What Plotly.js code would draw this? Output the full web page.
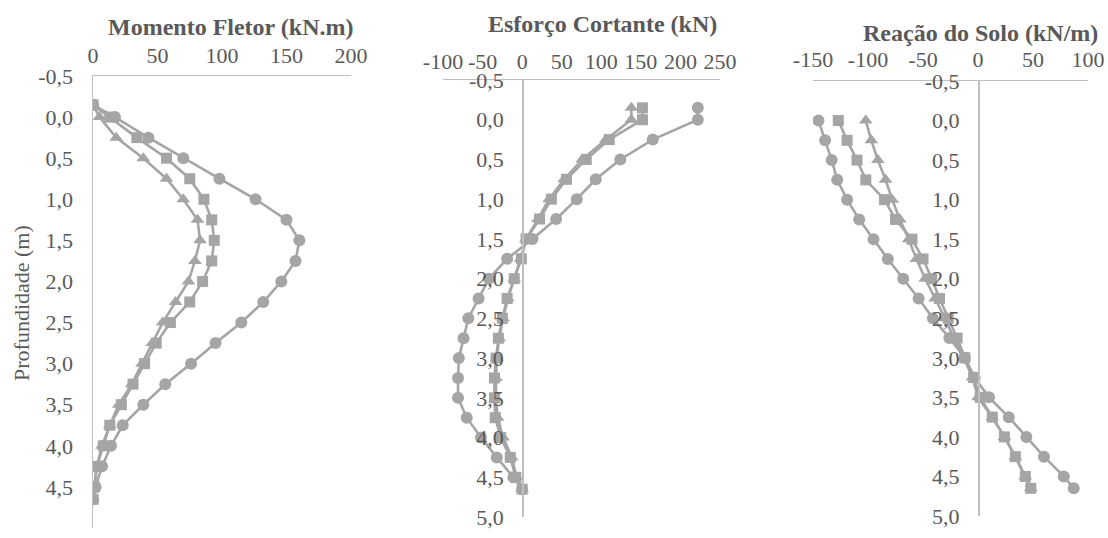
<!DOCTYPE html>
<html>
<head>
<meta charset="utf-8">
<script src="https://cdn.plot.ly/plotly-3.0.1.min.js"></script>
<style>
  html, body { margin: 0; padding: 0; background: #ffffff; }
  #chart { width: 1108px; height: 538px; }
</style>
</head>
<body>
<div id="chart"></div>
<script>
// Depths (m)
const depthA = [-0.15, 0, 0.25, 0.5, 0.75, 1.0, 1.25, 1.5, 1.75, 2.0, 2.25, 2.5, 2.75, 3.0, 3.25, 3.5, 3.75, 4.0, 4.25, 4.5, 4.65];
const depthB = [0, 0.25, 0.5, 0.75, 1.0, 1.25, 1.5, 1.75, 2.0, 2.25, 2.5, 2.75, 3.0, 3.25, 3.5, 3.75, 4.0, 4.25, 4.5, 4.65];

// Momento Fletor (kN.m)
const momentCircle   = [0, 17, 43, 70, 98, 126, 150, 160, 157, 146, 132, 115, 95, 76, 56, 39, 23, 14, 7, 2, 0];
const momentSquare   = [0, 13, 34, 57, 75, 86, 92, 94, 92, 85, 75, 60, 49, 40, 31, 22, 13, 8, 3, 1, 0];
const momentTriangle = [0, 5, 18, 39, 57, 70, 81, 83, 79, 74, 64, 54, 46, 38, 30, 20, 13, 7, 3, 1, 0];

// Esforço Cortante (kN)
const shearCircle   = [222, 222, 165, 124, 93, 69, 43, 13, -19, -42, -55, -68, -74, -80, -81, -81, -70, -52, -32, -11, 0];
const shearSquare   = [152, 152, 110, 81, 56, 37, 22, 5, -1, -10, -19, -25, -30, -33, -35, -35, -34, -27, -15, -8, 0];
const shearTriangle = [138, 138, 106, 76, 53, 34, 20, 5, -2, -10, -18, -24, -29, -32, -33, -33, -31, -24, -13, -7, 0];

// Reação do Solo (kN/m)
const soilCircle   = [-145, -139, -133, -128, -119, -108, -95, -82, -68, -54, -41, -26, -12, -3, 10, 28, 44, 60, 78, 87];
const soilSquare   = [-127, -119, -110, -102, -85, -75, -60, -50, -42, -35, -27, -19, -12, -4, 2, 13, 24, 34, 43, 48];
const soilTriangle = [-102, -97, -91, -84, -78, -71, -63, -56, -48, -39, -30, -22, -13, -5, 0, 13, 24, 34, 43, 48];

// Tick labels
const yTickVals = [-0.5, 0, 0.5, 1.0, 1.5, 2.0, 2.5, 3.0, 3.5, 4.0, 4.5, 5.0];
const yTickText = ['-0,5', '0,0', '0,5', '1,0', '1,5', '2,0', '2,5', '3,0', '3,5', '4,0', '4,5', '5,0'];
const x1TickVals = [0, 50, 100, 150, 200];
const x1TickText = ['0', '50', '100', '150', '200'];
const x2TickVals = [-100, -50, 0, 50, 100, 150, 200, 250];
const x2TickText = ['-100', '-50', '0', '50', '100', '150', '200', '250'];
const x3TickVals = [-150, -100, -50, 0, 50, 100];
const x3TickText = ['-150', '-100', '-50', '0', '50', '100'];

const titles = ['Momento Fletor (kN.m)', 'Esforço Cortante (kN)', 'Reação do Solo (kN/m)'];
const yTitle = 'Profundidade (m)';

// ---- styling ----
const W = 1108, H = 538;
const grey = '#A5A5A5';
const textCol = '#595959';
const lineCol = '#BFBFBF';
const FONT = 'Liberation Serif';

function px(x0, x1) { return [x0 / W, x1 / W]; }
function py(top, bottom) { return [1 - bottom / H, 1 - top / H]; }

const dom = [
  { x: px(93, 351), y: py(76, 528), xr: [0, 200] },
  { x: px(443, 720), y: py(80, 517), xr: [-100, 250] },
  { x: px(813, 1088), y: py(81, 516), xr: [-150, 100] }
];

function series(x, y, symbol, size, xa, ya) {
  return {
    x: x, y: y, xaxis: xa, yaxis: ya, type: 'scatter', mode: 'lines+markers',
    line: { color: grey, width: 2.6 },
    marker: { symbol: symbol, size: size, color: grey },
    showlegend: false, hoverinfo: 'skip'
  };
}

const data = [
  series(momentTriangle, depthA, 'triangle-up', 12, 'x', 'y'),
  series(momentSquare, depthA, 'square', 11, 'x', 'y'),
  series(momentCircle, depthA, 'circle', 12, 'x', 'y'),
  series(shearTriangle, depthA, 'triangle-up', 12, 'x2', 'y2'),
  series(shearSquare, depthA, 'square', 11, 'x2', 'y2'),
  series(shearCircle, depthA, 'circle', 12, 'x2', 'y2'),
  series(soilTriangle, depthB, 'triangle-up', 12, 'x3', 'y3'),
  series(soilSquare, depthB, 'square', 11, 'x3', 'y3'),
  series(soilCircle, depthB, 'circle', 12, 'x3', 'y3')
];

function xAxis(i, vals, text, anchor, standoff) {
  return {
    domain: dom[i].x, range: dom[i].xr, anchor: anchor, side: 'top',
    showline: true, linecolor: lineCol, linewidth: 1.5,
    showgrid: false, zeroline: false, ticks: '',
    tickmode: 'array', tickvals: vals, ticktext: text, tickangle: 0,
    ticklabelstandoff: standoff,
    tickfont: { family: FONT, size: 22, color: textCol }
  };
}
function yAxis(i, anchor, position) {
  const a = {
    domain: dom[i].y, range: [5.0, -0.5],
    showline: true, linecolor: lineCol, linewidth: 1.5,
    showgrid: false, zeroline: false, ticks: '',
    tickmode: 'array', tickvals: yTickVals, ticktext: yTickText,
    ticklabelstandoff: 14,
    tickfont: { family: FONT, size: 22, color: textCol }
  };
  if (anchor === 'free') { a.anchor = 'free'; a.position = position; }
  else { a.anchor = anchor; }
  return a;
}
function zeroPos(i) {
  const d = dom[i];
  return d.x[0] + (0 - d.xr[0]) / (d.xr[1] - d.xr[0]) * (d.x[1] - d.x[0]);
}

const layout = {
  width: W, height: H,
  font: { family: FONT, color: textCol },
  margin: { l: 0, r: 0, t: 0, b: 0, pad: 0 },
  paper_bgcolor: '#ffffff', plot_bgcolor: 'rgba(0,0,0,0)',
  showlegend: false,
  xaxis: xAxis(0, x1TickVals, x1TickText, 'y', 3),
  yaxis: yAxis(0, 'x'),
  xaxis2: xAxis(1, x2TickVals, x2TickText, 'y2', 1),
  yaxis2: yAxis(1, 'free', zeroPos(1)),
  xaxis3: xAxis(2, x3TickVals, x3TickText, 'y3', 4),
  yaxis3: yAxis(2, 'free', zeroPos(2)),
  annotations: [
    { text: '<b>' + titles[0] + '</b>', x: 230 / W, y: 1 - 27 / H },
    { text: '<b>' + titles[1] + '</b>', x: 602 / W, y: 1 - 24 / H },
    { text: '<b>' + titles[2] + '</b>', x: 980 / W, y: 1 - 33 / H }
  ].map(a => Object.assign(a, {
    xref: 'paper', yref: 'paper', xanchor: 'center', yanchor: 'middle', showarrow: false,
    font: { family: FONT, size: 24, color: textCol }
  })).concat([{
    text: yTitle, x: 21 / W, y: 1 - 303 / H, xref: 'paper', yref: 'paper',
    xanchor: 'center', yanchor: 'middle', showarrow: false, textangle: -90,
    font: { family: FONT, size: 22, color: textCol }
  }])
};

Plotly.newPlot('chart', data, layout, { staticPlot: true, displayModeBar: false });
</script>
</body>
</html>
